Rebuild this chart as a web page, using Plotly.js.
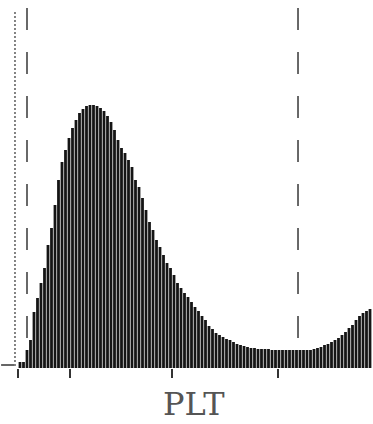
<!DOCTYPE html>
<html>
<head>
<meta charset="utf-8">
<script src="https://cdn.plot.ly/plotly-3.0.1.min.js"></script>
<style>html,body{margin:0;padding:0;background:#fff;}#chart{width:373px;height:424px;}</style>
</head>
<body>
<div id="chart"></div>
<script>
// Histogram channels (0..100) and their counts
var channels = [];
for (var c = 0; c <= 100; c++) channels.push(c);
var counts = [6,6,18,28,56,70,85,100,123,140,163,188,206,218,230,240,248,255,259,262,
  263,263,262,260,257,252,246,238,228,220,215,208,201,188,181,170,158,146,138,128,
  121,113,105,100,93,85,80,75,71,66,61,57,52,48,42,39,35,33,31,29,
  28,26,24,23,22,21,20,20,19,19,19,19,18,18,18,18,18,18,18,18,
  18,18,18,18,19,20,21,23,24,26,28,30,33,36,40,43,48,52,55,57,59];
// Axis tick positions (channel units) and discriminator lines
var tickPositions = [-0.57, 14.29, 43.43, 73.71];
var dottedLineX = -1.43;
var dashedLinesX = [2, 79.43];
var titleText = 'PLT';

var shapes = [];
shapes.push({type:'line', xref:'x', yref:'y', x0:dottedLineX, x1:dottedLineX, y0:-2, y1:358,
  line:{color:'#333', width:1.2, dash:'2px,2px'}});
dashedLinesX.forEach(function(xv){
  shapes.push({type:'line', xref:'x', yref:'y', x0:xv, x1:xv, y0:30, y1:364,
    line:{color:'#444', width:1.6, dash:'22px,22px'}});
});
shapes.push({type:'line', xref:'x', yref:'y', x0:-5.4, x1:-1.7, y0:3, y1:3,
  line:{color:'#333', width:1.5}});

var trace = {
  type:'bar', x:channels, y:counts,
  marker:{color:'#151515', line:{width:0}},
  hoverinfo:'skip'
};

var layout = {
  width:373, height:424,
  margin:{l:0, r:0, t:0, b:56, pad:0},
  paper_bgcolor:'#fff', plot_bgcolor:'#fff',
  bargap:0.2,
  showlegend:false,
  annotations:[{text:titleText, xref:'paper', yref:'paper', x:194/373, y:(368-404)/368,
    xanchor:'center', yanchor:'middle', showarrow:false,
    font:{family:'DejaVu Serif, serif', size:32, color:'#555'}}],
  xaxis:{range:[-5.714, 100.857], showgrid:false, zeroline:false, showline:false,
    tickmode:'array', tickvals:tickPositions, ticktext:['','','',''],
    ticks:'outside', ticklen:9, tickwidth:1.5, tickcolor:'#333', fixedrange:true},
  yaxis:{range:[0,368], visible:false, showgrid:false, zeroline:false, fixedrange:true},
  shapes:shapes
};

Plotly.newPlot('chart', [trace], layout, {staticPlot:true, displayModeBar:false});
</script>
</body>
</html>
